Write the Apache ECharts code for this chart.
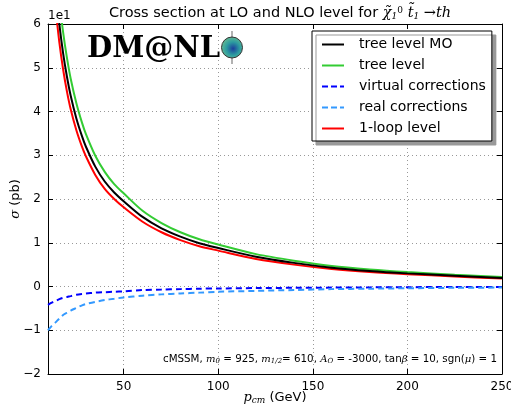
<!DOCTYPE html>
<html>
<head>
<meta charset="utf-8">
<script src="https://cdn.jsdelivr.net/npm/echarts@6/dist/echarts.min.js"></script>
<style>
  html, body { margin: 0; padding: 0; background: #fff; }
  #container { width: 511px; height: 407px; }
</style>
</head>
<body>
<div id="container"></div>
<script>
// p_cm values (GeV) where the curves were read
var pcm = [10, 12, 14, 16, 18, 20, 22, 25, 28, 30, 35, 40, 45, 50, 60, 70, 80, 90, 100, 120, 140, 160, 180, 200, 225, 250];
// sigma in units of 1e1 pb
var treeMO = [9.6, 8.0, 6.86, 6.0, 5.33, 4.8, 4.36, 3.84, 3.43, 3.2, 2.74, 2.4, 2.15, 1.95, 1.59, 1.33, 1.14, 0.99, 0.88, 0.68, 0.54, 0.43, 0.355, 0.30, 0.245, 0.195];
var tree = [10.5, 8.7, 7.48, 6.54, 5.81, 5.23, 4.75, 4.19, 3.74, 3.49, 2.99, 2.62, 2.34, 2.13, 1.73, 1.45, 1.24, 1.08, 0.96, 0.74, 0.59, 0.47, 0.39, 0.33, 0.27, 0.215];
var virt = [-0.42, -0.37, -0.33, -0.29, -0.26, -0.24, -0.22, -0.19, -0.17, -0.16, -0.14, -0.13, -0.12, -0.11, -0.08, -0.07, -0.06, -0.05, -0.045, -0.035, -0.03, -0.025, -0.02, -0.015, -0.012, -0.01];
var real = [-1.0, -0.9, -0.82, -0.73, -0.65, -0.6, -0.55, -0.49, -0.43, -0.4, -0.35, -0.31, -0.28, -0.25, -0.21, -0.18, -0.16, -0.14, -0.12, -0.1, -0.08, -0.06, -0.05, -0.04, -0.03, -0.025];
var oneLoop = [8.93, 7.44, 6.38, 5.58, 4.96, 4.46, 4.05, 3.57, 3.19, 2.98, 2.55, 2.23, 2.0, 1.81, 1.48, 1.24, 1.06, 0.92, 0.82, 0.63, 0.50, 0.40, 0.33, 0.28, 0.23, 0.18];
var xTicks = [50, 100, 150, 200, 250];

var font = 'DejaVu Sans';
var solidIcon = 'path://M0,0h22v2h-22z';
var dashIcon = 'path://M0,0h6v2h-6z M9,0h6v2h-6z M18,0h4v2h-4z';
var myChart = echarts.init(document.getElementById('container'));

function pts(arr) {
    return pcm.map(function (x, i) { return [x, arr[i]]; });
}
function minus(v) { return String(v).replace('-', '\u2212'); }

var xBase = {
    type: 'value', min: 10, max: 250,
    axisLine: { show: true, onZero: false, lineStyle: { color: '#000', width: 1 } },
    axisTick: { show: true, inside: true, length: 5, customValues: xTicks, lineStyle: { color: '#000' } },
    splitLine: { show: false }
};
var yBase = {
    type: 'value', min: -2, max: 6, interval: 1,
    axisLine: { show: true, onZero: false, lineStyle: { color: '#000', width: 1 } },
    axisTick: { show: true, inside: true, length: 5, lineStyle: { color: '#000' } },
    splitLine: { show: false }
};

option = {
    animation: false,
    backgroundColor: '#fff',
    title: {
        text: 'Cross section at LO and NLO level for {m|χ̃}{s|1}{p|0} {m|t̃}{s|1} {m|→th}',
        left: 275, textAlign: 'center', top: 1,
        textStyle: {
            color: '#000', fontFamily: font, fontWeight: 'normal', fontSize: 14.5,
            rich: {
                m: { fontFamily: 'DejaVu Serif', fontStyle: 'italic', fontSize: 14.5, color: '#000' },
                s: { fontFamily: 'DejaVu Serif', fontStyle: 'italic', fontSize: 9, color: '#000', verticalAlign: 'bottom', padding: [6, 0, 0, 0] },
                p: { fontFamily: 'DejaVu Serif', fontSize: 9, color: '#000', verticalAlign: 'top', padding: [0, 0, 6, 0] }
            }
        }
    },
    grid: { left: 48, right: 9, top: 24, bottom: 33, containLabel: false, outerBoundsMode: 'none' },
    legend: {
        left: 312, top: 31, orient: 'vertical',
        padding: [6, 6, 5, 10],
        itemWidth: 22, itemHeight: 2, itemGap: 6,
        backgroundColor: '#fff', borderColor: '#000', borderWidth: 1,
        shadowColor: '#999', shadowBlur: 0.5, shadowOffsetX: 4, shadowOffsetY: 4,
        textStyle: { fontFamily: font, fontSize: 14, lineHeight: 15, color: '#000', padding: [0, 0, 0, 10] },
        data: [
            { name: 'tree level MO', icon: solidIcon },
            { name: 'tree level', icon: solidIcon },
            { name: 'virtual corrections', icon: dashIcon },
            { name: 'real corrections', icon: dashIcon },
            { name: '1-loop level', icon: solidIcon }
        ]
    },
    xAxis: [
        Object.assign({}, xBase, {
            position: 'bottom',
            name: '{i|p}{s|cm} (GeV)', nameLocation: 'middle', nameGap: 17, nameMoveOverlap: false,
            nameTextStyle: {
                fontFamily: font, fontSize: 13, color: '#000',
                rich: {
                    i: { fontFamily: 'DejaVu Serif', fontStyle: 'italic', fontSize: 13, color: '#000' },
                    s: { fontFamily: 'DejaVu Serif', fontStyle: 'italic', fontSize: 9, color: '#000', verticalAlign: 'bottom', padding: [5, 0, 0, 0] }
                }
            },
            axisLabel: { customValues: xTicks, color: '#000', fontFamily: font, fontSize: 12, margin: 7 },
            splitLine: { show: true, customValues: xTicks, lineStyle: { color: '#999', type: [1, 3], width: 1 } }
        }),
        Object.assign({}, xBase, { position: 'top', axisLabel: { show: false } })
    ],
    yAxis: [
        Object.assign({}, yBase, {
            position: 'left',
            name: '{i|σ} (pb)', nameLocation: 'middle', nameGap: 26, nameRotate: 90, nameMoveOverlap: false,
            nameTextStyle: {
                fontFamily: font, fontSize: 13, color: '#000',
                rich: { i: { fontFamily: 'DejaVu Serif', fontStyle: 'italic', fontSize: 13, color: '#000' } }
            },
            axisLabel: { color: '#000', fontFamily: font, fontSize: 12, margin: 7, formatter: minus },
            splitLine: { show: true, lineStyle: { color: '#999', type: [1, 3], width: 1 } }
        }),
        Object.assign({}, yBase, { position: 'right', axisLabel: { show: false } })
    ],
    graphic: [
        { type: 'text', left: 48, top: 10, style: { text: '1e1', fill: '#000', font: '12px "DejaVu Sans"' } },
        { type: 'text', left: 87, top: 35, z: 10, style: { text: 'DM@NL', fill: '#000', font: 'bold 29px "DejaVu Serif"' } },
        { type: 'line', z: 10, shape: { x1: 232, y1: 31, x2: 232, y2: 64 }, style: { stroke: '#999', lineWidth: 1.5 } },
        {
            type: 'circle', z: 11, shape: { cx: 232, cy: 47.5, r: 10.5 },
            style: {
                stroke: '#333', lineWidth: 1,
                fill: new echarts.graphic.RadialGradient(0.55, 0.55, 0.6, [
                    { offset: 0, color: '#1c3f9c' },
                    { offset: 0.5, color: '#2c9ca0' },
                    { offset: 1, color: '#6fbf8f' }
                ])
            }
        },
        {
            type: 'text', left: 163, top: 354, z: 10,
            style: {
                text: 'cMSSM, {i|m}{s|0} = 925, {i|m}{s|1/2}= 610, {i|A}{s|O} = -3000, tan{i|β} = 10, sgn({i|μ}) = 1',
                fill: '#000', font: '10.3px "DejaVu Sans"',
                rich: {
                    i: { fontFamily: 'DejaVu Serif', fontStyle: 'italic', fontSize: 10 },
                    s: { fontFamily: 'DejaVu Serif', fontStyle: 'italic', fontSize: 7, verticalAlign: 'bottom', padding: [4, 0, 0, 0] }
                }
            }
        }
    ],
    series: [
        { name: 'tree level MO', type: 'line', data: pts(treeMO), smooth: 0.3, showSymbol: false, symbol: 'none', color: '#000', lineStyle: { width: 2 }, z: 4 },
        { name: 'tree level', type: 'line', data: pts(tree), smooth: 0.3, showSymbol: false, symbol: 'none', color: '#33cc33', lineStyle: { width: 2 }, z: 3 },
        { name: 'virtual corrections', type: 'line', data: pts(virt), smooth: 0.3, showSymbol: false, symbol: 'none', color: '#0000ff', lineStyle: { width: 2, type: [6, 4] }, z: 3 },
        { name: 'real corrections', type: 'line', data: pts(real), smooth: 0.3, showSymbol: false, symbol: 'none', color: '#3399ff', lineStyle: { width: 2, type: [6, 4] }, z: 3 },
        { name: '1-loop level', type: 'line', data: pts(oneLoop), smooth: 0.3, showSymbol: false, symbol: 'none', color: '#ff0000', lineStyle: { width: 2 }, z: 3 }
    ]
};
if (option && typeof option === "object") {
    myChart.setOption(option, true);
    window.onresize = function () {
        myChart.resize();
    };
}
</script>
</body>
</html>
